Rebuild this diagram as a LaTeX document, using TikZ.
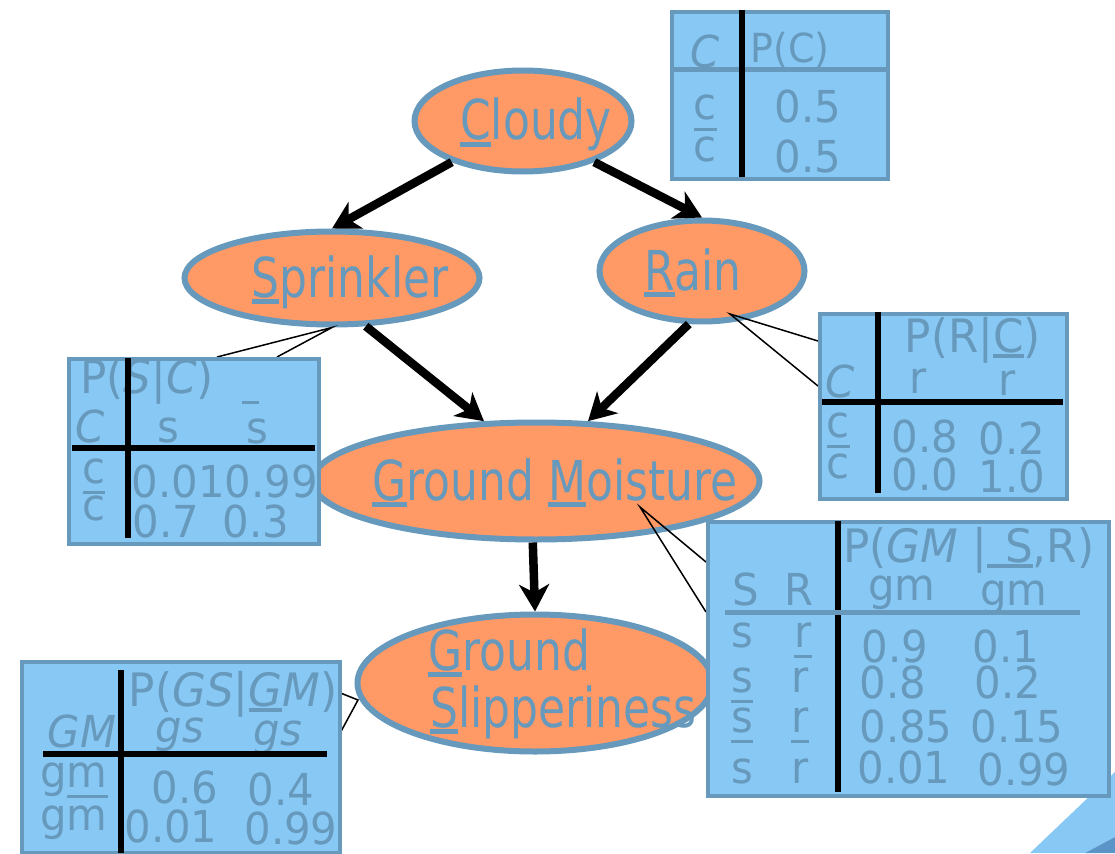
\documentclass[tikz,border=0pt]{standalone}
\usepackage{fontspec}
\setmainfont{DejaVu Sans}
\newfontfamily\lblfont{DejaVu Sans}[FakeStretch=0.8]
\newfontfamily\tblfont{DejaVu Sans}[FakeStretch=0.95]
\usetikzlibrary{shapes.geometric,arrows.meta,calc}
\definecolor{orng}{HTML}{FF9966}
\definecolor{bgrey}{HTML}{6699BB}
\definecolor{tfill}{HTML}{88C8F4}
\definecolor{cdark}{HTML}{5B95C8}
\newsavebox\ulbox
\newcommand\ula[1]{\sbox\ulbox{#1}\rlap{\rule[-0.12em]{\wd\ulbox}{0.075em}}\usebox\ulbox}
\newcommand\ulb[1]{\sbox\ulbox{#1}\rlap{\rule[-0.25em]{\wd\ulbox}{0.07em}}\usebox\ulbox}
\tikzset{
  bnode/.style={ellipse, draw=bgrey, line width=6pt, fill=orng, inner sep=0pt},
  lbl/.style={text=bgrey, font=\lblfont\fontsize{55}{60}\selectfont, inner sep=0pt, anchor=base},
  tb/.style={rectangle, fill=tfill, draw=bgrey, line width=4pt, inner sep=0pt, anchor=north west},
  tt/.style={text=bgrey, font=\tblfont\fontsize{44}{50}\selectfont, inner sep=0pt, anchor=base},
  th/.style={tt, font=\tblfont\fontsize{46}{52}\selectfont},
  blk/.style={line width=6pt, black},
  gln/.style={line width=5pt, bgrey},
  arr/.style={line width=8.5pt, black, -{Stealth[length=27pt,width=30pt,inset=8pt]}},
  call/.style={line width=1.5pt, black}
}
\begin{document}
\begin{tikzpicture}[x=1pt,y=-1pt]
\useasboundingbox (0,0) rectangle (1115,853);
\fill[white] (0,0) rectangle (1115,853);
% corner decoration
\fill[tfill] (1030,853) -- (1115,772) -- (1115,837) -- (1085,853) -- cycle;
\fill[cdark] (1085,853) -- (1115,837) -- (1115,853) -- cycle;

% ellipses
\node[bnode, minimum width=217pt, minimum height=101pt] (cloudy) at (523,121) {};
\node[bnode, minimum width=295pt, minimum height=93pt] (sprinkler) at (332,278) {};
\node[bnode, minimum width=205pt, minimum height=101pt] (rain) at (702,271) {};
\node[bnode, minimum width=447pt, minimum height=117pt] (gm) at (536,481) {};
\node[bnode, minimum width=355pt, minimum height=137pt] (gs) at (535,683) {};

% labels
\node[lbl] (lc) at (536,140) {\ula{C}loudy};
\node[lbl] (ls) at (350,297) {\ula{S}prinkler};
\node[lbl] (lr) at (693,290) {\ula{R}ain};
\node[lbl] (lgm) at (555,500) {\ula{G}round \ula{M}oisture};
\node[lbl, anchor=base west] (lg1) at (428,670) {\ula{G}round};
\node[lbl, anchor=base west] (lg2) at (430,727) {\ula{S}lipperiness};

% arrows
\draw[arr] (cloudy.-150) -- (sprinkler.north);
\draw[arr] (cloudy.-30) -- (rain.north);
\draw[arr] (sprinkler.-55) -- (gm.131);
\draw[arr] (rain.-104) -- (gm.49);
\draw[arr] (gm.-93) -- (gs.north);

% callout coordinates
\coordinate (ra) at (730,314);
\coordinate (ma) at (640,507);
\coordinate (ga) at (358,700);
\coordinate (sc1) at (217,357);
\coordinate (sc2) at (277,357);
\coordinate (rc1) at (818,341);
\coordinate (rc2) at (818,386);
\coordinate (mc1) at (706,562);
\coordinate (mc2) at (706,612);
\coordinate (gc1) at (338,692);
\coordinate (gc2) at (338,737);
\draw[call] (sc1) -- (sprinkler.south) -- (sc2);
\draw[call] (rc1) -- (ra) -- (rc2);
\draw[call] (mc1) -- (ma) -- (mc2);
\draw[call] (gc1) -- (ga) -- (gc2);

% tables
\node[tb, minimum width=216pt, minimum height=167pt] (tc) at (670,10) {};
\node[tb, minimum width=250pt, minimum height=185pt] (tsc) at (67,357) {};
\node[tb, minimum width=247pt, minimum height=185pt] (trc) at (818,312) {};
\node[tb, minimum width=401pt, minimum height=274pt] (tgm) at (706,520) {};
\node[tb, minimum width=318pt, minimum height=191pt] (tgs) at (20,660) {};

% table P(C)
\node[tt] (c1h) at (705,68) {\textit{C}};
\node[tt, font=\tblfont\fontsize{40}{46}\selectfont] (c1p) at (790,63) {P(C)};
\node[tt] (c1r1) at (705,120) {\ulb{c}};
\node[tt] (c1r2) at (705,162) {c};
\node[tt] (c1v1) at (808,123) {0.5};
\node[tt] (c1v2) at (808,172) {0.5};
\draw[gln] (670,70) -- (886,70);
\draw[blk] (742,10) -- (742,177);

% table P(S|C)
\node[th] (s2h) at (147,393) {P(\textit{S}|\textit{C})};
\draw[bgrey, line width=3pt] (242,402) -- (259,402);
\node[tt] (s2c) at (90,442) {\textit{C}};
\node[tt] (s2s1) at (168,442) {s};
\node[tt] (s2s2) at (257,443) {s};
\node[tt] (s2r1) at (94,483) {\ulb{c}};
\node[tt] (s2r2) at (94,520) {c};
\node[tt] (s2v1) at (225,497) {0.010.99};
\node[tt] (s2v2) at (166,537) {0.7};
\node[tt] (s2v3) at (256,537) {0.3};
\draw[blk] (128,358) -- (128,538);
\draw[blk] (72,448) -- (315,448);

% table P(R|C)
\node[th] (r3h) at (973,352) {P(R|\ula{C})};
\node[tt] (r3c) at (840,397) {\textit{C}};
\node[tt] (r3r1) at (918,393) {r};
\node[tt] (r3r2) at (1007,395) {r};
\node[tt] (r3k1) at (838,437) {\ulb{c}};
\node[tt] (r3k2) at (838,478) {c};
\node[tt] (r3v1) at (925,452) {0.8};
\node[tt] (r3v2) at (1012,454) {0.2};
\node[tt] (r3v3) at (925,490) {0.0};
\node[tt] (r3v4) at (1012,492) {1.0};
\draw[blk] (878,312) -- (878,493);
\draw[blk] (822,402) -- (1063,402);

% table P(GM|S,R)
\node[th, anchor=base west] (g4h) at (843,562) {P(\textit{GM} |\ula{\hspace{0.4em}S},R)};
\node[tt] (g4s) at (746,605) {S};
\node[tt] (g4r) at (799,605) {R};
\node[tt] (g4g1) at (902,600) {gm};
\node[tt] (g4g2) at (1014,605) {gm};
\node[tt] (g4a1) at (742,647) {s};
\node[tt] (g4b1) at (803,647) {\ulb{r}};
\node[tt] (g4c1) at (895,662) {0.9};
\node[tt] (g4d1) at (1006,662) {0.1};
\node[tt] (g4a2) at (742,692) {\ulb{s}};
\node[tt] (g4b2) at (800,692) {r};
\node[tt] (g4c2) at (893,698) {0.8};
\node[tt] (g4d2) at (1008,698) {0.2};
\node[tt] (g4a3) at (742,732) {\ulb{s}};
\node[tt] (g4b3) at (800,732) {\ulb{r}};
\node[tt] (g4c3) at (906,742) {0.85};
\node[tt] (g4d3) at (1017,742) {0.15};
\node[tt] (g4a4) at (742,783) {s};
\node[tt] (g4b4) at (800,783) {r};
\node[tt] (g4c4) at (904,783) {0.01};
\node[tt] (g4d4) at (1024,785) {0.99};
\draw[blk] (838,521) -- (838,792);
\draw[gln] (725,612) -- (1080,612);

% table P(GS|GM)
\node[th] (s5h) at (233,706) {P(\textit{GS}|\textit{\ula{G}M})};
\node[tt] (s5gm) at (82,747) {\textit{GM}};
\node[tt] (s5a) at (180,742) {\textit{gs}};
\node[tt] (s5b) at (278,745) {\textit{gs}};
\node[tt] (s5r1) at (74,787) {g\ulb{m}};
\node[tt] (s5r2) at (74,830) {gm};
\node[tt] (s5v1) at (185,803) {0.6};
\node[tt] (s5v2) at (281,805) {0.4};
\node[tt] (s5v3) at (171,842) {0.01};
\node[tt] (s5v4) at (291,844) {0.99};
\draw[blk] (121,670) -- (121,853);
\draw[blk] (43,754) -- (327,754);
\end{tikzpicture}
\end{document}
